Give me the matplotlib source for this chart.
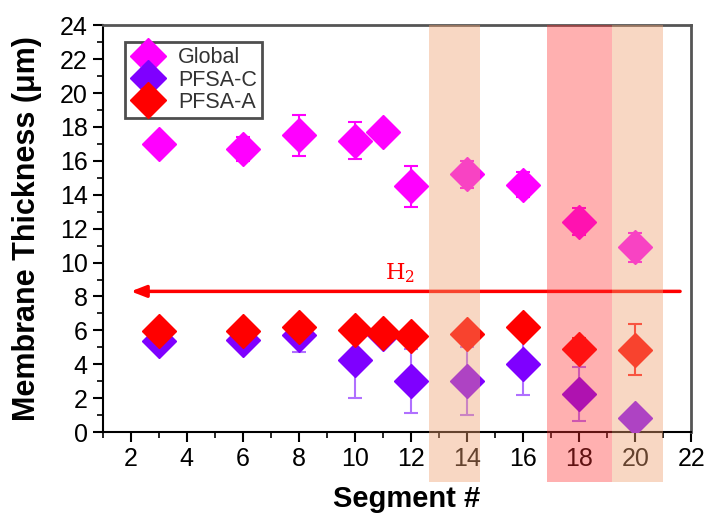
import matplotlib
matplotlib.use("Agg")
import matplotlib.pyplot as plt
import matplotlib.transforms as mtransforms
from matplotlib.ticker import MultipleLocator

plt.rcParams['font.family'] = ['Liberation Sans', 'DejaVu Sans']

segments = [3, 6, 8, 10, 11, 12, 14, 16, 18, 20]
global_y = [17.0, 16.7, 17.5, 17.2, 17.7, 14.5, 15.2, 14.6, 12.4, 10.9]
global_err = [0.0, 0.7, 1.2, 1.1, 0.0, 1.2, 0.8, 0.75, 0.8, 0.85]
pfsac_y = [5.4, 5.45, 5.7, 4.25, 5.8, 3.0, 3.0, 4.0, 2.25, 0.85]
pfsac_err = [0.0, 0.0, 0.95, 2.25, 0.0, 1.9, 2.0, 1.8, 1.6, 0.0]
pfsaa_y = [5.97, 5.97, 6.2, 6.0, 5.87, 5.67, 5.8, 6.2, 4.9, 4.85]
pfsaa_err = [0.0, 0.0, 0.0, 0.0, 0.0, 0.0, 0.0, 0.0, 0.65, 1.5]

bands = [(12.65, 14.47, '#F0A070', 0.42), (16.86, 19.17, '#FF3030', 0.38), (19.17, 21.0, '#F0A070', 0.42)]
arrow_y = 8.3
arrow_x = (21.6, 2.0)

fig = plt.figure(figsize=(7.09, 5.15), dpi=100)
ax = fig.add_axes([0.145, 0.161, 0.830, 0.790])

ms = 17
ax.errorbar(segments, global_y, yerr=global_err, fmt='D', color='#FF00FF', ms=ms,
            ecolor='#FF00FF', elinewidth=1.5, capsize=5, capthick=1.5, label='Global', zorder=3)
ax.errorbar(segments, pfsac_y, yerr=pfsac_err, fmt='D', color='#7F00FF', ms=ms,
            ecolor='#B070FF', elinewidth=1.5, capsize=5, capthick=1.5, label='PFSA-C', zorder=4)
ax.errorbar(segments, pfsaa_y, yerr=pfsaa_err, fmt='D', color='#FF0000', ms=ms,
            ecolor='#FF2020', elinewidth=1.5, capsize=5, capthick=1.5, label='PFSA-A', zorder=5)

ax.annotate('', xy=(arrow_x[1], arrow_y), xytext=(arrow_x[0], arrow_y),
            arrowprops=dict(arrowstyle='-|>,head_length=0.9,head_width=0.35', color='#FF0000', lw=2.5,
                            shrinkA=0, shrinkB=0), zorder=6)
ax.text(11.6, 9.4, r'$\mathrm{H_2}$', color='#FF0000', fontsize=16, ha='center', va='center',
        math_fontfamily='dejavuserif')

trans = mtransforms.blended_transform_factory(ax.transData, ax.transAxes)
for x0, x1, c, a in bands:
    r = plt.Rectangle((x0, -0.123), x1 - x0, 1.123, transform=trans, facecolor=c, alpha=a,
                      edgecolor='none', clip_on=False, zorder=10)
    ax.add_patch(r)

ax.set_xlim(1, 22)
ax.set_ylim(0, 24)
ax.xaxis.set_major_locator(MultipleLocator(2))
ax.xaxis.set_minor_locator(MultipleLocator(1))
ax.yaxis.set_major_locator(MultipleLocator(2))
ax.yaxis.set_minor_locator(MultipleLocator(1))
ax.tick_params(which='major', direction='out', length=7, width=1.5, labelsize=18, pad=4)
ax.tick_params(which='minor', direction='out', length=4, width=1.2)
ax.set_xticks([2, 4, 6, 8, 10, 12, 14, 16, 18, 20, 22])

for s in ['left', 'bottom']:
    ax.spines[s].set_color('black')
    ax.spines[s].set_linewidth(1.5)
for s in ['top', 'right']:
    ax.spines[s].set_color('#555555')
    ax.spines[s].set_linewidth(2)

ax.set_xlabel('Segment #', fontsize=21, fontweight='bold')
ax.xaxis.set_label_coords(0.517, -0.13)
ax.set_ylabel('Membrane Thickness (μm)', fontsize=22, fontweight='bold')
ax.yaxis.set_label_coords(-0.104, 0.5)

leg = ax.legend(loc='upper left', bbox_to_anchor=(0.02, 0.985), fontsize=15.5, frameon=True,
                fancybox=False, edgecolor='#222222', markerscale=1.05, handlelength=1.6,
                handletextpad=0.6, borderpad=0.25, labelspacing=0.05, numpoints=1)
leg.get_frame().set_linewidth(2)
for t in leg.get_texts():
    t.set_color('#333333')

fig.savefig('out.png', dpi=100)
